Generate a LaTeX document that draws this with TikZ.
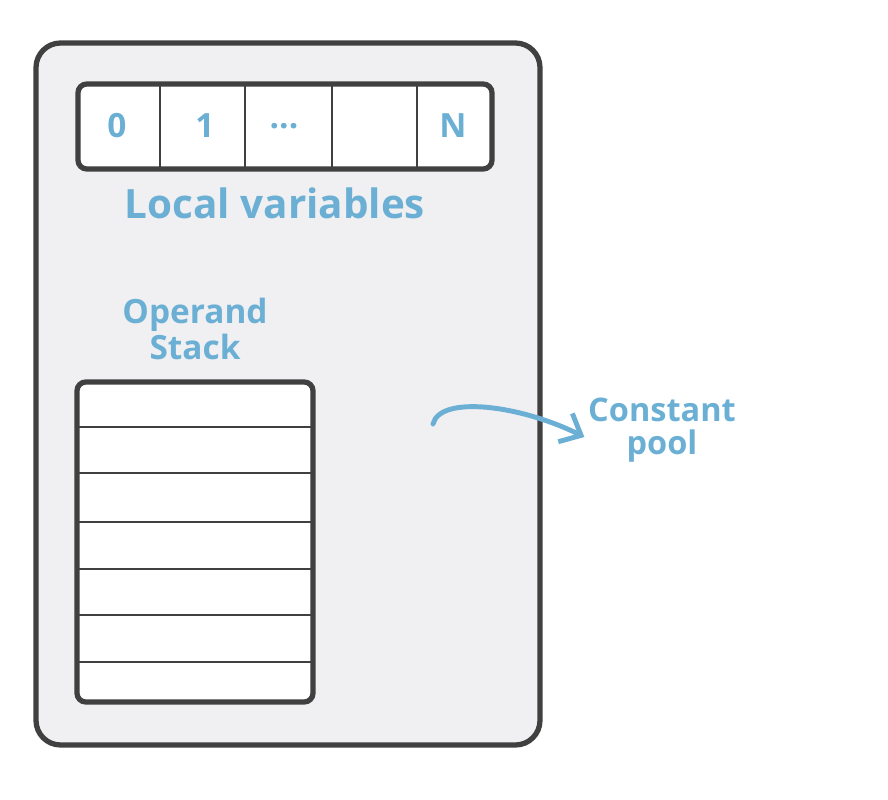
\documentclass[tikz,border=0pt]{standalone}
\usepackage{fontspec}
\setmainfont{Open Sans}
\usetikzlibrary{arrows.meta}

\definecolor{frameline}{HTML}{404040}
\definecolor{framefill}{HTML}{F0F0F2}
\definecolor{labelblue}{HTML}{6BB0D4}

\tikzset{
  frame/.style={draw=frameline, fill=framefill, line width=3pt, rounded corners=14pt},
  slotbox/.style={draw=frameline, fill=white, line width=3pt, rounded corners=5pt},
  divider/.style={draw=frameline, line width=1pt},
  cell/.style={text=labelblue, font=\bfseries\fontsize{19}{22}\selectfont},
  title/.style={text=labelblue, font=\bfseries\fontsize{23}{27}\selectfont},
  caption/.style={text=labelblue, align=center, font=\bfseries\fontsize{19}{21}\selectfont},
  poolarrow/.style={draw=labelblue, line width=2.8pt, line cap=round, -{Straight Barb[length=10pt,width=18pt]}}
}

\begin{document}
\begin{tikzpicture}[x=0.02cm,y=-0.02cm]
\useasboundingbox (0,0) rectangle (888,800);

\draw[frame] (36,43) rectangle (540,745);

% local variables
\draw[slotbox] (78,84) rectangle (492,169);
\foreach \x in {160,245,332,417}
  \draw[divider] (\x,84) -- (\x,169);
\node[cell] (v0) at (117,126) {0};
\node[cell] (v1) at (205,126) {1};
\node[cell] (vdots) at (284,126) {...};
\node[cell] (vn) at (453,126) {N};
\node[title] (locals) at (275,203) {Local variables};

% operand stack
\node[caption] (operand) at (195,329) {Operand\\Stack};
\draw[slotbox] (77,382) rectangle (313,702);
\foreach \y in {427,473,522,569,615,662}
  \draw[divider] (77,\y) -- (313,\y);

% constant pool
\node[caption, inner sep=2pt, font=\bfseries\fontsize{18.5}{18.5}\selectfont] (pool) at (662,430) {Constant\\pool};
\coordinate (ref) at (433,424);
\draw[poolarrow] (ref) .. controls (440,395) and (520,405) .. ([yshift=-4pt]pool.west);
\end{tikzpicture}
\end{document}
